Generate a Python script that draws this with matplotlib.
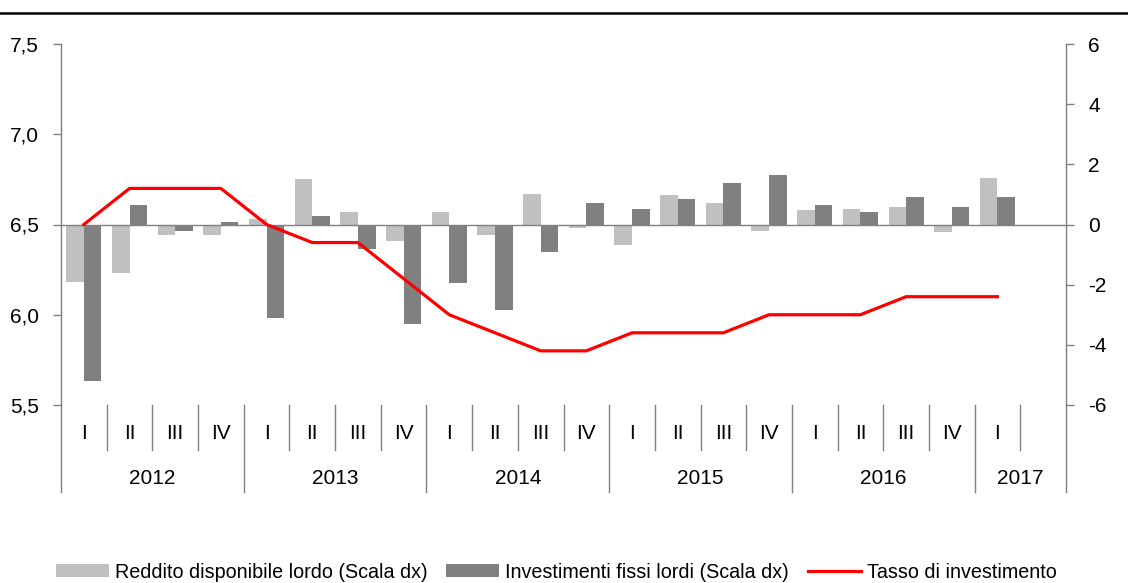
import matplotlib
matplotlib.use('Agg')
import matplotlib.pyplot as plt
import matplotlib.transforms as mtransforms
from matplotlib.lines import Line2D

plt.rcParams['font.family'] = ['Liberation Sans', 'DejaVu Sans']

# Dati
anni = ['2012', '2013', '2014', '2015', '2016', '2017']
quarti_per_anno = [4, 4, 4, 4, 4, 2]
trimestri = ['I', 'II', 'III', 'IV'] * 5 + ['I', '']

reddito = [-1.9, -1.6, -0.35, -0.35, 0.18, 1.5, 0.43, -0.55,
           0.43, -0.36, 1.03, -0.13, -0.67, 0.97, 0.7, -0.2,
           0.49, 0.53, 0.59, -0.26, 1.54]
investimenti = [-5.2, 0.64, -0.2, 0.07, -3.1, 0.27, -0.82, -3.3,
                -1.95, -2.85, -0.93, 0.7, 0.53, 0.86, 1.38, 1.66,
                0.64, 0.43, 0.91, 0.59, 0.91]
tasso = [6.5, 6.7, 6.7, 6.7, 6.5, 6.4, 6.4, 6.2,
         6.0, 5.9, 5.8, 5.8, 5.9, 5.9, 5.9, 6.0,
         6.0, 6.0, 6.1, 6.1, 6.1]

CHIARO = '#c0c0c0'
SCURO = '#808080'
ROSSO = '#ff0000'
GRIGIO = '#808080'

fig = plt.figure(figsize=(11.28, 5.83), dpi=100)
ax = fig.add_axes([61 / 1128, 1 - 405 / 583, (1066 - 61) / 1128, (405 - 44) / 583])
ax2 = ax.twinx()

n = len(trimestri)
x = list(range(len(tasso)))
w = 0.385

ax2.bar([i - w / 2 for i in x], reddito, width=w, color=CHIARO,
        label='Reddito disponibile lordo (Scala dx)')
ax2.bar([i + w / 2 for i in x], investimenti, width=w, color=SCURO,
        label='Investimenti fissi lordi (Scala dx)')
ax.plot(x, tasso, color=ROSSO, lw=2.3, label='Tasso di investimento', zorder=5)

ax.set_zorder(ax2.get_zorder() + 1)
ax.patch.set_visible(False)

ax.set_xlim(-0.5, n - 0.5)
ax.set_ylim(5.5, 7.5)
ax2.set_ylim(-6, 6)
ax.set_yticks([5.5, 6.0, 6.5, 7.0, 7.5])
ax.set_yticklabels([f'{v:.1f}'.replace('.', ',') for v in [5.5, 6.0, 6.5, 7.0, 7.5]])
ax2.set_yticks([-6, -4, -2, 0, 2, 4, 6])
ax2.set_yticklabels(['-6', '-4', '-2', '0', '2', '4', '6'])

for a in (ax, ax2):
    a.spines['top'].set_visible(False)
    for s in ['left', 'right', 'bottom']:
        a.spines[s].set_color(GRIGIO)
        a.spines[s].set_linewidth(1.0)
    a.tick_params(axis='y', colors=GRIGIO, labelcolor='black', labelsize=15,
                  length=6, width=1.0, pad=10)
ax2.spines['bottom'].set_visible(False)
ax2.spines['left'].set_visible(False)
ax.spines['right'].set_visible(False)

# asse delle categorie sulla linea dello zero
ax.spines['bottom'].set_position(('data', 6.5))
ax.set_xticks([i + 0.5 for i in range(n - 1)])
ax.tick_params(axis='x', direction='out', length=6, width=1.0, colors=GRIGIO,
               labelbottom=False)
ax2.set_xticks([])

# etichette a due livelli
trans = mtransforms.blended_transform_factory(ax.transData, ax.transAxes)
for i, t in enumerate(trimestri):
    ax.text(i, -0.078, t, transform=trans, ha='center', va='center', fontsize=15)

confini_anno = [-0.5]
for q in quarti_per_anno:
    confini_anno.append(confini_anno[-1] + q)
for k, anno in enumerate(anni):
    centro = (confini_anno[k] + confini_anno[k + 1]) / 2
    ax.text(centro, -0.203, anno, transform=trans, ha='center', va='center', fontsize=15)

for b in [i - 0.5 for i in range(n + 1)]:
    basso = -0.241 if b in confini_anno else -0.125
    ax.plot([b, b], [0, basso], transform=trans, color=GRIGIO, lw=1.0, clip_on=False)

# linea nera in alto
fig.add_artist(Line2D([0, 1], [1 - 13 / 583, 1 - 13 / 583], color='black', lw=1.8))

h1, l1 = ax2.get_legend_handles_labels()
h2, l2 = ax.get_legend_handles_labels()
fig.legend(h1 + h2, l1 + l2, loc='center', bbox_to_anchor=(0.493, 1 - 572 / 583),
           ncol=3, frameon=False, fontsize=14.2, handlelength=2.7, handleheight=0.6,
           handletextpad=0.3, columnspacing=0.95)

fig.savefig('out.png', dpi=100)
